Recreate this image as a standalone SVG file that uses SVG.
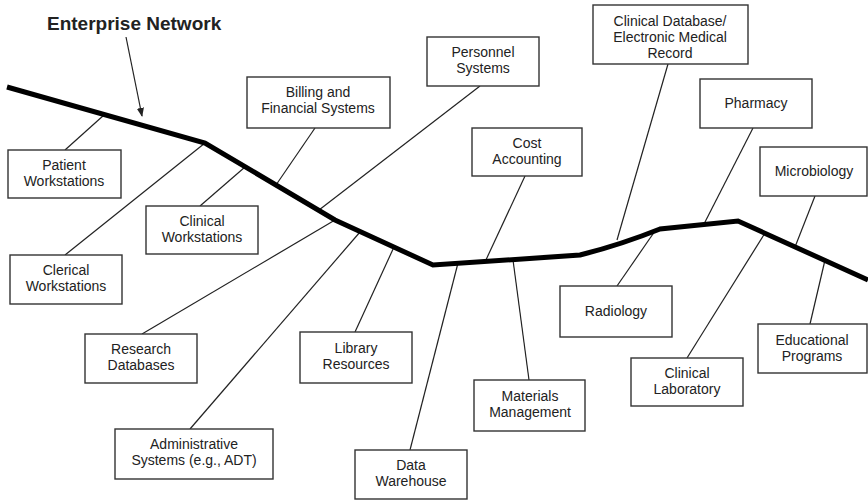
<svg xmlns="http://www.w3.org/2000/svg" width="868" height="503" viewBox="0 0 868 503">
<defs>
<style>
.box{fill:#fff;stroke:#333;stroke-width:1.4}
.t{font-family:"Liberation Sans",Arial,sans-serif;font-size:14px;fill:#222;text-anchor:middle}
.c{stroke:#222;stroke-width:1.2;fill:none}
.net{stroke:#000;stroke-width:5;fill:none;stroke-linejoin:miter}
</style>
<marker id="ah" viewBox="0 0 10 10" refX="9" refY="5" markerWidth="9" markerHeight="9" markerUnits="userSpaceOnUse" orient="auto">
<path d="M0,1 L10,5 L0,9 Z" fill="#222"/>
</marker>
</defs>
<rect width="868" height="503" fill="#fff"/>
<g id="connectors">
<line class="c" x1="65" y1="150" x2="104" y2="115"/>
<line class="c" x1="65" y1="255" x2="205" y2="143"/>
<line class="c" x1="200" y1="206" x2="245" y2="167"/>
<line class="c" x1="315" y1="128" x2="276" y2="185"/>
<line class="c" x1="480" y1="86" x2="319" y2="210"/>
<line class="c" x1="142" y1="334" x2="335" y2="220"/>
<line class="c" x1="190" y1="429" x2="360" y2="232"/>
<line class="c" x1="355" y1="332" x2="394" y2="247"/>
<line class="c" x1="410" y1="450" x2="458" y2="263"/>
<line class="c" x1="525" y1="176" x2="485" y2="262"/>
<line class="c" x1="529" y1="380" x2="513" y2="260"/>
<line class="c" x1="617" y1="286" x2="655" y2="231"/>
<line class="c" x1="668" y1="64" x2="617" y2="240"/>
<line class="c" x1="753" y1="128" x2="704" y2="224"/>
<line class="c" x1="815" y1="196" x2="795" y2="247"/>
<line class="c" x1="687" y1="358" x2="765" y2="233"/>
<line class="c" x1="810" y1="324" x2="825" y2="260"/>
<line class="c" x1="126" y1="37" x2="142" y2="116" marker-end="url(#ah)"/>
</g>
<path id="enterprise-network" class="net" d="M7,87 L205,143 L335,220 L433,265 L580,255 Q620,245 660,229 L738,221 L868,280"/>
<text x="47" y="30" font-family="Liberation Sans,Arial,sans-serif" font-size="19" font-weight="bold" fill="#222">Enterprise Network</text>
<g id="patient"><rect class="box" x="8" y="150" width="113" height="48"/><text class="t" x="64" y="170">Patient</text><text class="t" x="64" y="186">Workstations</text></g>
<g id="clerical"><rect class="box" x="10" y="255" width="112" height="49"/><text class="t" x="66" y="275">Clerical</text><text class="t" x="66" y="291">Workstations</text></g>
<g id="clinical-workstations"><rect class="box" x="146" y="206" width="112" height="48"/><text class="t" x="202" y="226">Clinical</text><text class="t" x="202" y="242">Workstations</text></g>
<g id="billing"><rect class="box" x="247" y="77" width="143" height="51"/><text class="t" x="318" y="97">Billing and</text><text class="t" x="318" y="113">Financial Systems</text></g>
<g id="personnel"><rect class="box" x="427" y="37" width="112" height="49"/><text class="t" x="483" y="57">Personnel</text><text class="t" x="483" y="73">Systems</text></g>
<g id="cost"><rect class="box" x="472" y="128" width="110" height="48"/><text class="t" x="527" y="148">Cost</text><text class="t" x="527" y="164">Accounting</text></g>
<g id="clinical-database"><rect class="box" x="593" y="5" width="155" height="59"/><text class="t" x="670" y="26">Clinical Database/</text><text class="t" x="670" y="42">Electronic Medical</text><text class="t" x="670" y="58">Record</text></g>
<g id="pharmacy"><rect class="box" x="700" y="79" width="112" height="49"/><text class="t" x="756" y="108">Pharmacy</text></g>
<g id="microbiology"><rect class="box" x="760" y="147" width="107" height="49"/><text class="t" x="814" y="176">Microbiology</text></g>
<g id="research"><rect class="box" x="85" y="334" width="112" height="49"/><text class="t" x="141" y="354">Research</text><text class="t" x="141" y="370">Databases</text></g>
<g id="administrative"><rect class="box" x="115" y="429" width="158" height="50"/><text class="t" x="194" y="449">Administrative</text><text class="t" x="194" y="465">Systems (e.g., ADT)</text></g>
<g id="library"><rect class="box" x="300" y="332" width="112" height="51"/><text class="t" x="356" y="353">Library</text><text class="t" x="356" y="369">Resources</text></g>
<g id="data-warehouse"><rect class="box" x="355" y="450" width="112" height="49"/><text class="t" x="411" y="470">Data</text><text class="t" x="411" y="486">Warehouse</text></g>
<g id="materials"><rect class="box" x="474" y="380" width="111" height="51"/><text class="t" x="530" y="401">Materials</text><text class="t" x="530" y="417">Management</text></g>
<g id="radiology"><rect class="box" x="560" y="286" width="112" height="51"/><text class="t" x="616" y="316">Radiology</text></g>
<g id="clinical-laboratory"><rect class="box" x="631" y="358" width="112" height="48"/><text class="t" x="687" y="378">Clinical</text><text class="t" x="687" y="394">Laboratory</text></g>
<g id="educational"><rect class="box" x="758" y="324" width="109" height="49"/><text class="t" x="812" y="345">Educational</text><text class="t" x="812" y="361">Programs</text></g>
</svg>
